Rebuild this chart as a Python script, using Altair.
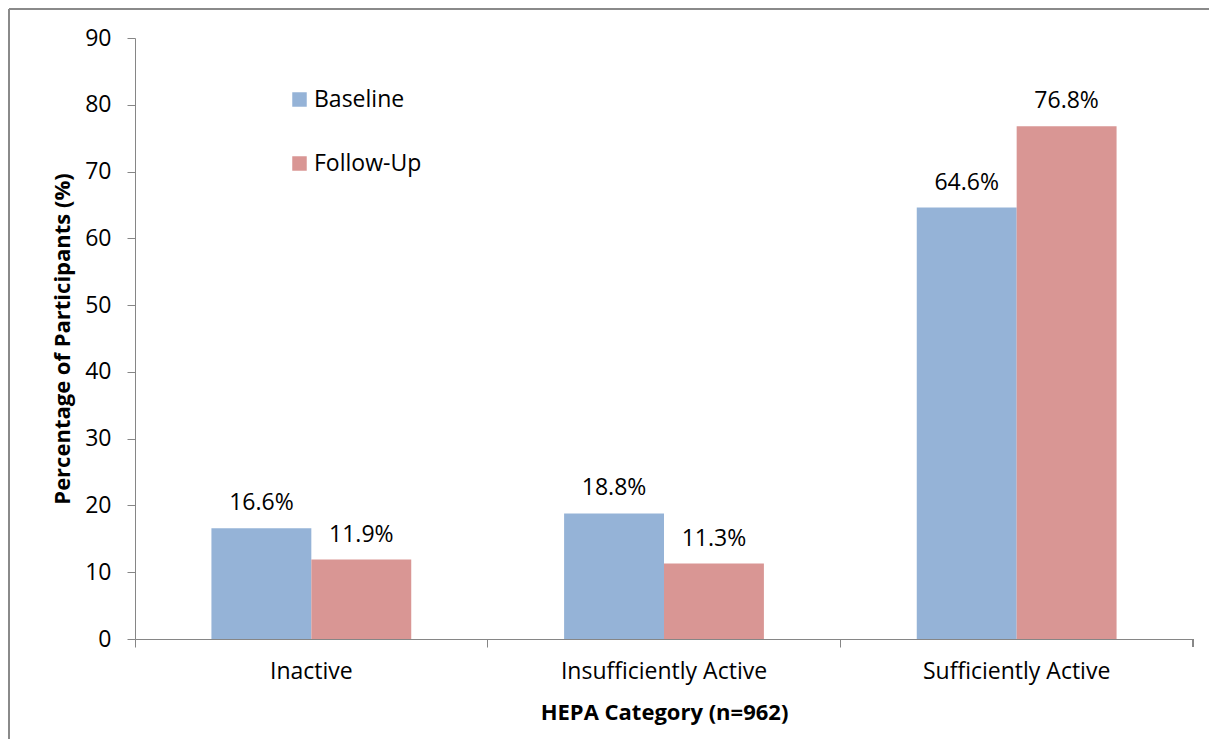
import altair as alt
import pandas as pd

categories = ["Inactive", "Insufficiently Active", "Sufficiently Active"]
series = ["Baseline", "Follow-Up"]
baseline = [16.6, 18.8, 64.6]
follow_up = [11.9, 11.3, 76.8]
colors = ["#95B3D7", "#D99694"]
y_ticks = [0, 10, 20, 30, 40, 50, 60, 70, 80, 90]

rows = []
for c, b, f in zip(categories, baseline, follow_up):
    rows.append({"cat": c, "series": series[0], "value": b})
    rows.append({"cat": c, "series": series[1], "value": f})
df = pd.DataFrame(rows)

W, H = 1058, 601
FONT = "Open Sans"
FS = 23
AXIS_GRAY = "#868686"

x_enc = alt.X(
    "cat:N",
    sort=categories,
    scale=alt.Scale(paddingInner=0, paddingOuter=0),
    axis=alt.Axis(
        title="HEPA Category (n=962)",
        bandPosition=0,
        labelAngle=0,
        labelFontSize=FS,
        labelFont=FONT,
        labelColor="black",
        labelPadding=13,
        labelBaseline="top",
        labelLimit=400,
        tickSize=8,
        tickColor=AXIS_GRAY,
        domainColor=AXIS_GRAY,
        titleFont=FONT,
        titleFontSize=FS - 1,
        titleFontWeight="bold",
        titleColor="black",
        titleY=73,
        titleBaseline="middle",
    ),
)
xoff_enc = alt.XOffset(
    "series:N", sort=series, scale=alt.Scale(paddingInner=0, paddingOuter=0.765)
)

base = alt.Chart(df).encode(x=x_enc, xOffset=xoff_enc)

bars = base.mark_bar().encode(
    y=alt.Y(
        "value:Q",
        scale=alt.Scale(domain=[0, 90], nice=False),
        axis=alt.Axis(
            title="Percentage of Participants (%)",
            values=y_ticks,
            grid=False,
            labelFontSize=FS,
            labelFont=FONT,
            labelColor="black",
            labelPadding=16,
            tickSize=8,
            tickColor=AXIS_GRAY,
            domainColor=AXIS_GRAY,
            titleFont=FONT,
            titleFontSize=FS - 1,
            titleFontWeight="bold",
            titleColor="black",
            titleX=-73,
            titleY=H / 2,
            titleAngle=-90,
            titleBaseline="middle",
            titleAlign="center",
            titleLimit=800,
        ),
    ),
    color=alt.Color(
        "series:N",
        sort=series,
        scale=alt.Scale(domain=series, range=colors),
        legend=alt.Legend(
            title=None,
            orient="none",
            legendX=153,
            legendY=50,
            symbolType="square",
            symbolSize=210,
            symbolStrokeWidth=0,
            labelFontSize=FS,
            labelFont=FONT,
            labelColor="black",
            labelOffset=3,
            labelLimit=300,
            rowPadding=40,
            padding=0,
        ),
    ),
)

labels = base.transform_calculate(
    label="format(datum.value, '.1f') + '%'"
).mark_text(baseline="bottom", dy=-13, fontSize=FS, font=FONT, color="black").encode(
    y=alt.Y("value:Q"), text="label:N"
)

end_tick = alt.Chart(df).mark_rule(color=AXIS_GRAY).encode(
    x=alt.value(W), y=alt.value(H), y2=alt.value(H + 8)
)
frame_left = alt.Chart(df).mark_rule(color="#8a8a8a", strokeWidth=1.5).encode(
    x=alt.value(-126), y=alt.value(-29), y2=alt.value(H + 120)
)
frame_top = alt.Chart(df).mark_rule(color="#8a8a8a", strokeWidth=1.5).encode(
    x=alt.value(-126), x2=alt.value(W + 40), y=alt.value(-29)
)

chart = (
    alt.layer(bars, labels, end_tick, frame_left, frame_top)
    .properties(
        width=W,
        height=H,
        autosize=alt.AutoSizeParams(type="none"),
        padding={"left": 127, "top": 30, "right": 16, "bottom": 100},
        background="white",
    )
    .configure_view(stroke=None)
)

chart.save("out.html", embed_options={"renderer": "svg", "actions": False})
